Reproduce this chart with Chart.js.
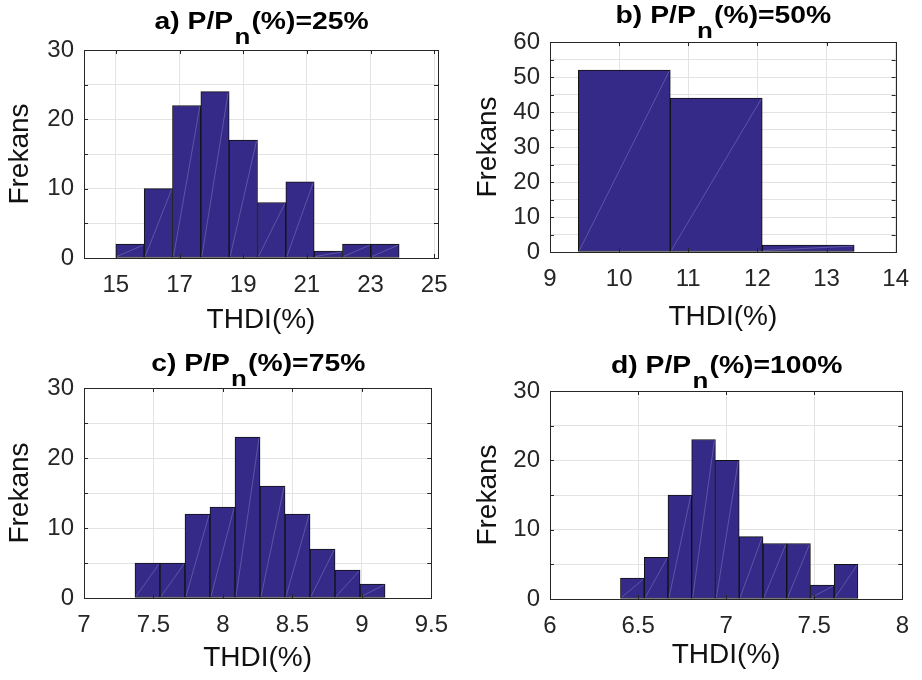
<!DOCTYPE html>
<html>
<head>
<meta charset="utf-8">
<script src="https://cdn.jsdelivr.net/npm/chart.js@4.4.1/dist/chart.umd.min.js"></script>
<style>
    html, body { margin: 0; padding: 0; background: #fff; }
    #wrap { position: relative; width: 922px; height: 680px; }
    .panel { position: absolute; width: 461px; height: 340px; }
</style>
</head>
<body>
<div id="wrap">
    <div class="panel" style="left:0;top:0"><canvas id="chartA" width="461" height="340"></canvas></div>
    <div class="panel" style="left:461px;top:0"><canvas id="chartB" width="461" height="340"></canvas></div>
    <div class="panel" style="left:0;top:340px"><canvas id="chartC" width="461" height="340"></canvas></div>
    <div class="panel" style="left:461px;top:340px"><canvas id="chartD" width="461" height="340"></canvas></div>
</div>
<script>
// Данные гистограмм (границы интервалов и частоты)
const edgesA = [15.0, 15.89, 16.78, 17.67, 18.56, 19.45, 20.34, 21.23, 22.12, 23.01, 23.9];
const countsA = [2, 10, 22, 24, 17, 8, 11, 1, 2, 2];
const xTicksA = [15, 17, 19, 21, 23, 25];
const xLabelsA = ['15', '17', '19', '21', '23', '25'];

const edgesB = [9.41, 10.74, 12.07, 13.40];
const countsB = [52, 44, 2];
const xTicksB = [9, 10, 11, 12, 13, 14];
const xLabelsB = ['9', '10', '11', '12', '13', '14'];

const edgesC = [7.367, 7.547, 7.727, 7.907, 8.087, 8.267, 8.447, 8.627, 8.807, 8.987, 9.167];
const countsC = [5, 5, 12, 13, 23, 16, 12, 7, 4, 2];
const xTicksC = [7, 7.5, 8, 8.5, 9, 9.5];
const xLabelsC = ['7', '7.5', '8', '8.5', '9', '9.5'];

const edgesD = [6.400, 6.535, 6.670, 6.804, 6.939, 7.074, 7.209, 7.344, 7.478, 7.613, 7.748];
const countsD = [3, 6, 15, 23, 20, 9, 8, 8, 2, 5];
const xTicksD = [6, 6.5, 7, 7.5, 8];
const xLabelsD = ['6', '6.5', '7', '7.5', '8'];

const yTicks30 = [0, 5, 10, 15, 20, 25, 30];
const yTicks60 = [0, 5, 10, 15, 20, 25, 30, 35, 40, 45, 50, 55, 60];
const yLabelStep = 10;

const titlesMain = ['a) P/P', 'b) P/P', 'c) P/P', 'd) P/P'];
const titlesSub = ['n', 'n', 'n', 'n'];
const titlesTail = ['(%)=25%', '(%)=50%', '(%)=75%', '(%)=100%'];

const FONT = "'Liberation Sans', Arial, sans-serif";
const AXIS_COLOR = '#262626';
const BAR_COLOR = '#352a87';

// Рамка и внутренние засечки как в MATLAB (box on)
const boxPlugin = {
    id: 'boxPlugin',
    afterDraw(chart) {
        const ctx = chart.ctx;
        const a = chart.chartArea;
        const xs = chart.scales.x, ys = chart.scales.y;
        const len = 4;
        ctx.save();
        ctx.strokeStyle = AXIS_COLOR;
        ctx.lineWidth = 1;
        ctx.beginPath();
        xs.ticks.forEach(t => {
            const px = Math.round(xs.getPixelForValue(t.value)) + 0.5;
            ctx.moveTo(px, a.bottom); ctx.lineTo(px, a.bottom - len);
            ctx.moveTo(px, a.top); ctx.lineTo(px, a.top + len);
        });
        ys.ticks.forEach(t => {
            const py = Math.round(ys.getPixelForValue(t.value)) + 0.5;
            ctx.moveTo(a.left, py); ctx.lineTo(a.left + len, py);
            ctx.moveTo(a.right, py); ctx.lineTo(a.right - len, py);
        });
        ctx.stroke();
        ctx.strokeRect(Math.round(a.left) + 0.5, Math.round(a.top) + 0.5,
            Math.round(a.right - a.left), Math.round(a.bottom - a.top));
        ctx.restore();
    }
};

// Светлая диагональ внутри столбцов (артефакт отрисовки патчей)
const diagPlugin = {
    id: 'diagPlugin',
    afterDatasetsDraw(chart) {
        const ctx = chart.ctx;
        ctx.save();
        ctx.strokeStyle = 'rgba(140, 130, 200, 0.6)';
        ctx.lineWidth = 0.8;
        chart.getDatasetMeta(0).data.forEach(bar => {
            const w = bar.width / 2;
            ctx.beginPath();
            ctx.moveTo(bar.x - w + 1, bar.base - 1);
            ctx.lineTo(bar.x + w - 1, bar.y + 1);
            ctx.stroke();
        });
        ctx.restore();
    }
};

// Заголовок с нижним индексом (шрифт слегка растянут по горизонтали, как в оригинале)
const titlePlugin = {
    id: 'subTitle',
    afterDraw(chart, args, opts) {
        const ctx = chart.ctx;
        const a = chart.chartArea;
        const sx = 1.18;
        const big = 'bold 24px ' + FONT;
        const small = 'bold 22px ' + FONT;
        ctx.save();
        ctx.fillStyle = '#000';
        ctx.textBaseline = 'alphabetic';
        ctx.textAlign = 'left';
        ctx.font = big;
        const w1 = ctx.measureText(opts.main).width;
        const w3 = ctx.measureText(opts.tail).width;
        ctx.font = small;
        const w2 = ctx.measureText(opts.sub).width + 1;
        const total = (w1 + w2 + w3) * sx;
        ctx.translate((a.left + a.right) / 2 - total / 2, 0);
        ctx.scale(sx, 1);
        let x = 0;
        ctx.font = big;
        ctx.fillText(opts.main, x, opts.baseline);
        x += w1 + 1;
        ctx.font = small;
        ctx.fillText(opts.sub, x, opts.baseline + 15);
        x += w2;
        ctx.font = big;
        ctx.fillText(opts.tail, x, opts.baseline);
        ctx.restore();
    }
};

function makeHist(id, p) {
    const centers = p.counts.map((c, i) => (p.edges[i] + p.edges[i + 1]) / 2);
    const data = p.counts.map((c, i) => ({ x: centers[i], y: c }));
    return new Chart(document.getElementById(id).getContext('2d'), {
        type: 'bar',
        data: {
            datasets: [{
                data: data,
                backgroundColor: BAR_COLOR,
                borderColor: '#111111',
                borderWidth: 1,
                borderSkipped: false,
                barThickness: 'flex',
                barPercentage: 1,
                categoryPercentage: 1
            }]
        },
        options: {
            responsive: false,
            animation: false,
            layout: { padding: { left: 0, top: p.top, right: p.right, bottom: 0 } },
            plugins: {
                legend: { display: false },
                tooltip: { enabled: false },
                subTitle: { main: p.title[0], sub: p.title[1], tail: p.title[2], baseline: p.titleY }
            },
            scales: {
                x: {
                    type: 'linear',
                    offset: false,
                    min: p.xMin,
                    max: p.xMax,
                    afterBuildTicks: s => { s.ticks = p.xTicks.map(v => ({ value: v })); },
                    afterFit: s => { s.height = p.xH; },
                    ticks: {
                        autoSkip: false,
                        maxRotation: 0,
                        padding: 13,
                        color: AXIS_COLOR,
                        font: { family: FONT, size: 24 },
                        callback: (v, i) => p.xLabels[i]
                    },
                    grid: { color: '#e3e3e3', drawTicks: false, offset: false },
                    border: { display: false },
                    title: {
                        display: true,
                        text: 'THDI(%)',
                        color: '#111',
                        font: { family: FONT, size: 28 },
                        padding: { top: 0, bottom: p.xTitlePad }
                    }
                },
                y: {
                    min: 0,
                    max: p.yMax,
                    afterBuildTicks: s => { s.ticks = p.yTicks.map(v => ({ value: v })); },
                    afterFit: s => { s.width = p.left; },
                    ticks: {
                        autoSkip: false,
                        padding: 10,
                        color: AXIS_COLOR,
                        font: { family: FONT, size: 24 },
                        callback: v => (v % yLabelStep === 0 ? String(v) : '')
                    },
                    grid: { color: '#e3e3e3', drawTicks: false },
                    border: { display: false },
                    title: {
                        display: true,
                        text: 'Frekans',
                        color: '#111',
                        font: { family: FONT, size: 28 },
                        padding: { top: p.yTitlePad, bottom: 0 }
                    }
                }
            }
        },
        plugins: [diagPlugin, boxPlugin, titlePlugin]
    });
}

makeHist('chartA', {
    edges: edgesA, counts: countsA, xTicks: xTicksA, xLabels: xLabelsA, yTicks: yTicks30,
    xMin: 14, xMax: 25.12, yMax: 30,
    left: 84, right: 23, top: 50, xH: 82, xTitlePad: 3, yTitlePad: 3,
    title: [titlesMain[0], titlesSub[0], titlesTail[0]], titleY: 29
});
makeHist('chartB', {
    edges: edgesB, counts: countsB, xTicks: xTicksB, xLabels: xLabelsB, yTicks: yTicks60,
    xMin: 9, xMax: 14, yMax: 60,
    left: 89, right: 17, top: 42, xH: 88, xTitlePad: 6, yTitlePad: 10,
    title: [titlesMain[1], titlesSub[1], titlesTail[1]], titleY: 23
});
makeHist('chartC', {
    edges: edgesC, counts: countsC, xTicks: xTicksC, xLabels: xLabelsC, yTicks: yTicks30,
    xMin: 7, xMax: 9.5, yMax: 30,
    left: 84, right: 23, top: 48, xH: 82, xTitlePad: 5, yTitlePad: 3,
    title: [titlesMain[2], titlesSub[2], titlesTail[2]], titleY: 31
});
makeHist('chartD', {
    edges: edgesD, counts: countsD, xTicks: xTicksD, xLabels: xLabelsD, yTicks: yTicks30,
    xMin: 6, xMax: 8, yMax: 30,
    left: 89, right: 17, top: 51, xH: 81, xTitlePad: 8, yTitlePad: 10,
    title: [titlesMain[3], titlesSub[3], titlesTail[3]], titleY: 33
});
</script>
</body>
</html>
